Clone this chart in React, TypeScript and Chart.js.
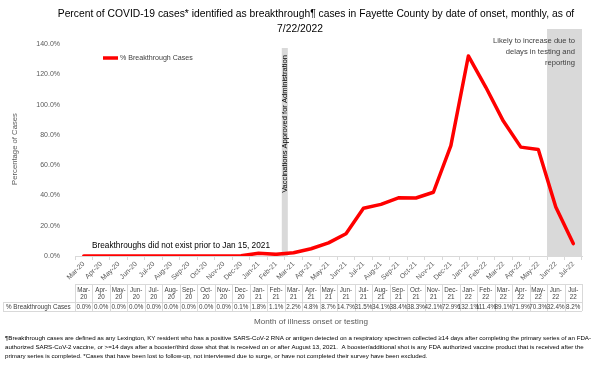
import React, { useEffect, useRef } from "react";
import { Chart, registerables } from "chart.js";

Chart.register(...registerables);

const months = [
  "Mar-20", "Apr-20", "May-20", "Jun-20", "Jul-20", "Aug-20", "Sep-20", "Oct-20", "Nov-20", "Dec-20",
  "Jan-21", "Feb-21", "Mar-21", "Apr-21", "May-21", "Jun-21", "Jul-21", "Aug-21", "Sep-21", "Oct-21",
  "Nov-21", "Dec-21", "Jan-22", "Feb-22", "Mar-22", "Apr-22", "May-22", "Jun-22", "Jul-22",
];
const breakthroughPct = [
  0.0, 0.0, 0.0, 0.0, 0.0, 0.0, 0.0, 0.0, 0.0, 0.1,
  1.8, 1.1, 2.2, 4.8, 8.7, 14.7, 31.5, 34.1, 38.4, 38.3,
  42.1, 72.9, 132.1, 111.4, 89.1, 71.9, 70.3, 32.4, 8.2,
];
const yTicks = [0, 20, 40, 60, 80, 100, 120, 140];
const seriesName = "% Breakthrough Cases";
const titleLines = [
  "Percent of COVID-19 cases* identified as breakthrough¶ cases in Fayette County by date of onset, monthly, as of",
  "7/22/2022",
];
const footnoteLines = [
  "¶Breakthrough cases are defined as any Lexington, KY resident who has a positive SARS-CoV-2 RNA or antigen detected on a respiratory specimen collected ≥14 days after completing the primary series of an FDA-",
  "authorized SARS-CoV-2 vaccine, or >=14 days after a booster/third dose shot that is received on or after August 13, 2021.  A booster/additional shot is any FDA authorized vaccine product that is received after the",
  "primary series is completed. *Cases that have been lost to follow-up, not interviewed due to surge, or have not completed their survey have been excluded.",
];
const vaccineLabel = "Vaccinations Approved for Administration";
const priorLabel = "Breakthroughs did not exist prior to Jan 15, 2021";
const likelyLines = ["Likely to increase due to", "delays in testing and", "reporting"];
const xTitle = "Month of illness onset or testing";
const yTitle = "Percentage of Cases";
const vaccineAfterIndex = 11; // band between Feb-21 and Mar-21
const likelyFromIndex = 27; // Jun-22 onward

const FONT = "'Liberation Sans', Arial, sans-serif";
const TEXT = "#404040";

function fitSize(ctx: CanvasRenderingContext2D, text: string, width: number) {
  ctx.font = `10px ${FONT}`;
  const w = ctx.measureText(text).width;
  return (10 * width) / w;
}

const overlay = {
  id: "overlay",
  beforeDatasetsDraw(chart: any) {
    const ctx: CanvasRenderingContext2D = chart.ctx;
    const x = chart.scales.x;
    const area = chart.chartArea;
    const step = x.getPixelForValue(1) - x.getPixelForValue(0);
    ctx.save();
    ctx.fillStyle = "#d9d9d9";
    const vx = (x.getPixelForValue(vaccineAfterIndex) + x.getPixelForValue(vaccineAfterIndex + 1)) / 2;
    ctx.fillRect(vx - 3, 48, 6, area.bottom - 48);
    const lx = x.getPixelForValue(likelyFromIndex) - step / 2;
    ctx.fillRect(lx, 29, area.right - lx, area.bottom - 29);
    ctx.restore();
  },
  afterDraw(chart: any) {
    const ctx: CanvasRenderingContext2D = chart.ctx;
    const x = chart.scales.x;
    const area = chart.chartArea;
    const step = x.getPixelForValue(1) - x.getPixelForValue(0);
    ctx.save();
    ctx.fillStyle = "#000";
    ctx.textBaseline = "middle";

    // title
    const ts = fitSize(ctx, titleLines[0], 517);
    ctx.font = `${ts}px ${FONT}`;
    ctx.textAlign = "center";
    ctx.fillStyle = "#000";
    ctx.fillText(titleLines[0], 316, 14);
    ctx.fillText(titleLines[1], 300, 29);

    // likely text
    const ls = fitSize(ctx, likelyLines[0], 82);
    ctx.font = `${ls}px ${FONT}`;
    ctx.textAlign = "right";
    ctx.fillStyle = TEXT;
    likelyLines.forEach((l, i) => ctx.fillText(l, 575, 41 + i * 11));

    // legend
    ctx.strokeStyle = "#ff0000";
    ctx.lineWidth = 3.5;
    ctx.beginPath();
    ctx.moveTo(103, 58);
    ctx.lineTo(118, 58);
    ctx.stroke();
    const lgs = fitSize(ctx, seriesName, 73);
    ctx.font = `${lgs}px ${FONT}`;
    ctx.textAlign = "left";
    ctx.fillStyle = TEXT;
    ctx.fillText(seriesName, 120, 58);

    // prior label
    const ps = fitSize(ctx, priorLabel, 178);
    ctx.font = `${ps}px ${FONT}`;
    ctx.textAlign = "center";
    ctx.fillStyle = "#000";
    ctx.fillText(priorLabel, 181, 246);

    // vaccine label (vertical)
    const vx = (x.getPixelForValue(vaccineAfterIndex) + x.getPixelForValue(vaccineAfterIndex + 1)) / 2;
    const vs = fitSize(ctx, vaccineLabel, 138);
    ctx.save();
    ctx.translate(vx, 124);
    ctx.rotate(-Math.PI / 2);
    ctx.font = `${vs}px ${FONT}`;
    ctx.fillStyle = "#000";
    ctx.fillText(vaccineLabel, 0, 0);
    ctx.restore();

    // y title
    const yts = fitSize(ctx, yTitle, 72);
    ctx.save();
    ctx.translate(15, 149);
    ctx.rotate(-Math.PI / 2);
    ctx.font = `${yts}px ${FONT}`;
    ctx.fillStyle = "#595959";
    ctx.fillText(yTitle, 0, 0);
    ctx.restore();

    // data table
    const top = 284, mid = 302, bot = 311;
    const left = x.getPixelForValue(0) - step / 2;
    const right = x.getPixelForValue(months.length - 1) + step / 2;
    ctx.strokeStyle = "#d9d9d9";
    ctx.lineWidth = 1;
    ctx.beginPath();
    ctx.moveTo(left, top + 0.5); ctx.lineTo(right, top + 0.5);
    ctx.moveTo(3, mid + 0.5); ctx.lineTo(right, mid + 0.5);
    ctx.moveTo(3, bot + 0.5); ctx.lineTo(right, bot + 0.5);
    ctx.moveTo(3.5, mid); ctx.lineTo(3.5, bot);
    for (let i = 0; i <= months.length; i++) {
      const px = Math.round(left + i * step) + 0.5;
      ctx.moveTo(px, top); ctx.lineTo(px, bot);
    }
    ctx.stroke();
    ctx.font = `6.3px ${FONT}`;
    ctx.fillStyle = TEXT;
    ctx.textAlign = "center";
    months.forEach((m, i) => {
      const cx = x.getPixelForValue(i);
      const [a, b] = m.split("-");
      ctx.fillText(a + "-", cx, 290);
      ctx.fillText(b, cx, 297.5);
      ctx.fillText(breakthroughPct[i].toFixed(1) + "%", cx, 307);
    });
    ctx.textAlign = "left";
    ctx.fillText(seriesName, 6, 307);

    // x title
    const xs = fitSize(ctx, xTitle, 114);
    ctx.font = `${xs}px ${FONT}`;
    ctx.textAlign = "center";
    ctx.fillStyle = "#595959";
    ctx.fillText(xTitle, 311, 322);

    // footnote
    const fs = fitSize(ctx, footnoteLines[0], 587);
    ctx.font = `${fs}px ${FONT}`;
    ctx.textAlign = "left";
    ctx.fillStyle = "#000";
    footnoteLines.forEach((l, i) => ctx.fillText(l, 5, 338 + i * 9));
    ctx.restore();
  },
};

export default function App() {
  const ref = useRef<HTMLCanvasElement>(null);
  useEffect(() => {
    if (!ref.current) return;
    const chart = new Chart(ref.current, {
      type: "line",
      data: {
        labels: months,
        datasets: [
          {
            label: seriesName,
            data: breakthroughPct,
            borderColor: "#ff0000",
            backgroundColor: "#ff0000",
            borderWidth: 3.5,
            pointRadius: 0,
            tension: 0,
            borderJoinStyle: "round",
            borderCapStyle: "round",
          },
        ],
      },
      options: {
        animation: false,
        responsive: false,
        layout: { padding: { top: 44, right: 18, bottom: 80, left: 0 } },
        plugins: { legend: { display: false }, tooltip: { enabled: false }, title: { display: false } },
        scales: {
          x: {
            type: "category",
            offset: true,
            grid: { display: true, drawOnChartArea: false, drawTicks: true, tickLength: 4, color: "#d9d9d9", offset: true },
            border: { display: true, color: "#d9d9d9" },
            ticks: { autoSkip: false, minRotation: 45, maxRotation: 45, font: { size: 7, family: FONT }, color: "#595959", padding: 0 },
            afterFit: (s: any) => { s.height = 30; },
          },
          y: {
            min: 0,
            max: 140,
            afterBuildTicks: (s: any) => { s.ticks = yTicks.map((v) => ({ value: v })); },
            ticks: { callback: (v: any) => Number(v).toFixed(1) + "%", font: { size: 7, family: FONT }, color: "#595959", padding: 7 },
            grid: { display: false },
            border: { display: false },
            afterFit: (s: any) => { s.width = 75; },
          },
        },
      },
      plugins: [overlay],
    } as any);
    return () => chart.destroy();
  }, []);
  return (
    <div style={{ position: "fixed", left: 0, top: 0, width: 600, height: 366, background: "#fff" }}>
      <canvas ref={ref} width={600} height={366} style={{ width: 600, height: 366 }} />
    </div>
  );
}
